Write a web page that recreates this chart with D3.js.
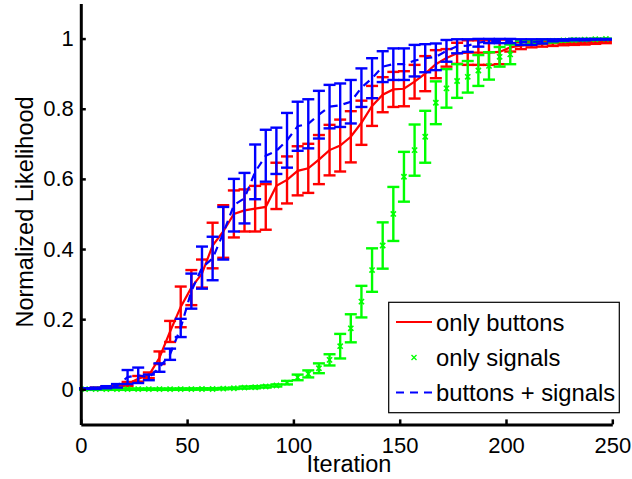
<!DOCTYPE html>
<html>
<head>
<meta charset="utf-8">
<script src="https://cdn.jsdelivr.net/npm/d3@7"></script>
<style>
  html, body { margin: 0; padding: 0; background: #fff; }
  svg { display: block; font-family: "Liberation Sans", Arial, Helvetica, sans-serif; }
</style>
</head>
<body>
<svg id="chart" width="632" height="479"></svg>
<script>
// ---- data ----
const iterations = [2,7,12,17,22,27,32,37,42,47,52,57,62,67,72,77,82,87,92,97,
  102,107,112,117,122,127,132,137,142,147,152,157,162,167,172,177,182,187,192,197,
  202,207,212,217,222,227,232,237,242,247];

const onlyButtons = [0.002,0.003,0.005,0.008,0.015,0.03,0.04,0.09,0.165,0.235,
  0.29,0.33,0.41,0.45,0.50,0.51,0.515,0.52,0.58,0.597,
  0.623,0.63,0.655,0.682,0.695,0.72,0.76,0.808,0.84,0.855,
  0.857,0.877,0.90,0.927,0.945,0.958,0.96,0.96,0.96,0.962,
  0.975,0.98,0.983,0.985,0.986,0.987,0.988,0.988,0.989,0.99];
const onlyButtonsErr = [0.001,0.002,0.003,0.004,0.006,0.008,0.008,0.018,0.03,0.058,
  0.05,0.04,0.065,0.075,0.067,0.06,0.065,0.065,0.066,0.067,
  0.07,0.07,0.07,0.072,0.074,0.073,0.063,0.057,0.05,0.05,
  0.05,0.048,0.05,0.04,0.025,0.03,0.035,0.035,0.035,0.035,
  0.012,0.01,0.008,0.008,0.007,0.006,0.006,0.005,0.004,0.003];

const onlySignals = [0.0005,0.0005,0.0005,0.0005,0.0005,0.0005,0.0005,0.0005,0.0005,0.0007,
  0.0008,0.001,0.001,0.002,0.003,0.005,0.006,0.008,0.011,0.019,
  0.034,0.044,0.06,0.084,0.123,0.174,0.25,0.34,0.41,0.50,
  0.606,0.682,0.72,0.817,0.858,0.879,0.891,0.909,0.922,0.948,
  0.955,0.988,0.99,0.992,0.993,0.995,0.996,0.997,0.998,0.999];
const onlySignalsErr = [0.002,0.002,0.002,0.002,0.002,0.002,0.002,0.002,0.002,0.002,
  0.002,0.002,0.002,0.002,0.002,0.003,0.003,0.003,0.003,0.005,
  0.008,0.01,0.014,0.016,0.035,0.04,0.045,0.062,0.066,0.077,
  0.071,0.073,0.074,0.061,0.055,0.048,0.045,0.044,0.039,0.028,
  0.028,0.006,0.005,0.005,0.004,0.003,0.003,0.002,0.002,0.001];

const buttonsSignals = [0.002,0.003,0.006,0.01,0.035,0.04,0.034,0.062,0.10,0.175,
  0.28,0.347,0.373,0.445,0.525,0.545,0.62,0.666,0.68,0.71,
  0.75,0.757,0.783,0.806,0.81,0.82,0.86,0.887,0.92,0.927,
  0.927,0.937,0.944,0.948,0.965,0.978,0.98,0.988,0.993,0.993,
  0.993,0.99,0.99,0.992,0.995,0.996,0.997,0.997,0.998,0.998];
const buttonsSignalsErr = [0.001,0.002,0.003,0.005,0.02,0.022,0.008,0.012,0.016,0.026,
  0.05,0.06,0.062,0.075,0.075,0.072,0.078,0.074,0.066,0.078,
  0.07,0.07,0.068,0.062,0.062,0.062,0.055,0.057,0.044,0.045,
  0.045,0.045,0.04,0.038,0.031,0.02,0.018,0.011,0.006,0.006,
  0.006,0.008,0.008,0.006,0.003,0.002,0.002,0.002,0.001,0.001];

const xTicks = [0,50,100,150,200,250];
const yTicks = [0,0.2,0.4,0.6,0.8,1];
const xLabel = "Iteration";
const yLabel = "Normalized Likelihood";
const seriesNames = ["only buttons","only signals","buttons + signals"];
const seriesColors = ["#ff0000","#00ff00","#0000ff"];

// ---- chart ----
const svg = d3.select("#chart");
const x = d3.scaleLinear().domain([0,250]).range([80.8,612.3]);
const y = d3.scaleLinear().domain([-0.1,1.1]).range([424.4,3.5]);

function makeSeries(vals, errs) {
  return iterations.map((it,i) => ({x: it, v: vals[i], e: errs[i]}));
}
const series = [
  {name: seriesNames[0], color: seriesColors[0], data: makeSeries(onlyButtons, onlyButtonsErr), line: "solid"},
  {name: seriesNames[1], color: seriesColors[1], data: makeSeries(onlySignals, onlySignalsErr), line: "none"},
  {name: seriesNames[2], color: seriesColors[2], data: makeSeries(buttonsSignals, buttonsSignalsErr), line: "dashed"}
];

const capHalf = 6;
const plot = svg.append("g");
series.forEach(s => {
  const g = plot.append("g");
  const eb = g.selectAll("g.eb").data(s.data).join("g").attr("class","eb")
    .attr("stroke", s.color).attr("stroke-width", 2.4).attr("fill","none");
  eb.append("line").attr("x1", d => x(d.x)).attr("x2", d => x(d.x))
    .attr("y1", d => y(d.v - d.e)).attr("y2", d => y(d.v + d.e));
  eb.append("line").attr("x1", d => x(d.x) - capHalf).attr("x2", d => x(d.x) + capHalf)
    .attr("y1", d => y(d.v + d.e)).attr("y2", d => y(d.v + d.e));
  eb.append("line").attr("x1", d => x(d.x) - capHalf).attr("x2", d => x(d.x) + capHalf)
    .attr("y1", d => y(d.v - d.e)).attr("y2", d => y(d.v - d.e));
  if (s.line !== "none") {
    g.append("path").datum(s.data)
      .attr("fill","none").attr("stroke", s.color).attr("stroke-width", 2.2)
      .attr("stroke-dasharray", s.line === "dashed" ? "8,6" : null)
      .attr("d", d3.line().x(d => x(d.x)).y(d => y(d.v)));
  } else {
    const m = 2.6;
    g.selectAll("path.mk").data(s.data).join("path").attr("class","mk")
      .attr("stroke", s.color).attr("stroke-width", 1.6).attr("fill","none")
      .attr("d", d => `M${x(d.x)-m},${y(d.v)-m}L${x(d.x)+m},${y(d.v)+m}M${x(d.x)-m},${y(d.v)+m}L${x(d.x)+m},${y(d.v)-m}`);
  }
});

// axes
const fmt = d3.format("~g");
const yAxis = svg.append("g").attr("transform","translate(80.8,0)")
  .call(d3.axisLeft(y).tickValues(yTicks).tickFormat(fmt).tickSize(-5).tickSizeOuter(0).tickPadding(7));
const xAxis = svg.append("g").attr("transform","translate(0,424.4)")
  .call(d3.axisBottom(x).tickValues(xTicks).tickFormat(fmt).tickSize(-5).tickSizeOuter(0).tickPadding(13));
[yAxis, xAxis].forEach(a => {
  a.select(".domain").attr("stroke","#000").attr("stroke-width",3);
  a.selectAll(".tick line").attr("stroke","#000").attr("stroke-width",2.5);
  a.selectAll(".tick text").attr("fill","#000").style("font-size","22px")
    .style("font-family","'Liberation Sans', Arial, Helvetica, sans-serif");
});

svg.append("text").attr("x", 349).attr("y", 472).attr("text-anchor","middle")
  .style("font-size","23.5px").attr("fill","#000").text(xLabel);
svg.append("text").attr("transform","translate(33,212) rotate(-90)").attr("text-anchor","middle")
  .style("font-size","23.5px").attr("fill","#000").text(yLabel);

// legend
const lg = svg.append("g");
lg.append("rect").attr("x",388.7).attr("y",302.3).attr("width",230.6).attr("height",110.4)
  .attr("fill","#fff").attr("stroke","#000").attr("stroke-width",1.2);
const rowY = [322, 357.5, 392.5];
series.forEach((s,i) => {
  const cy = rowY[i];
  if (s.line === "none") {
    const m = 2.5, cx = 414;
    lg.append("path").attr("stroke", s.color).attr("stroke-width",1.3).attr("fill","none")
      .attr("d", `M${cx-m},${cy-m}L${cx+m},${cy+m}M${cx-m},${cy+m}L${cx+m},${cy-m}`);
  } else {
    lg.append("line").attr("x1",396).attr("x2",432).attr("y1",cy).attr("y2",cy)
      .attr("stroke", s.color).attr("stroke-width",2)
      .attr("stroke-dasharray", s.line === "dashed" ? "8,6" : null);
  }
  lg.append("text").attr("x",436).attr("y",cy + 8.5).style("font-size","23.8px").attr("fill","#000").text(s.name);
});
</script>
</body>
</html>
